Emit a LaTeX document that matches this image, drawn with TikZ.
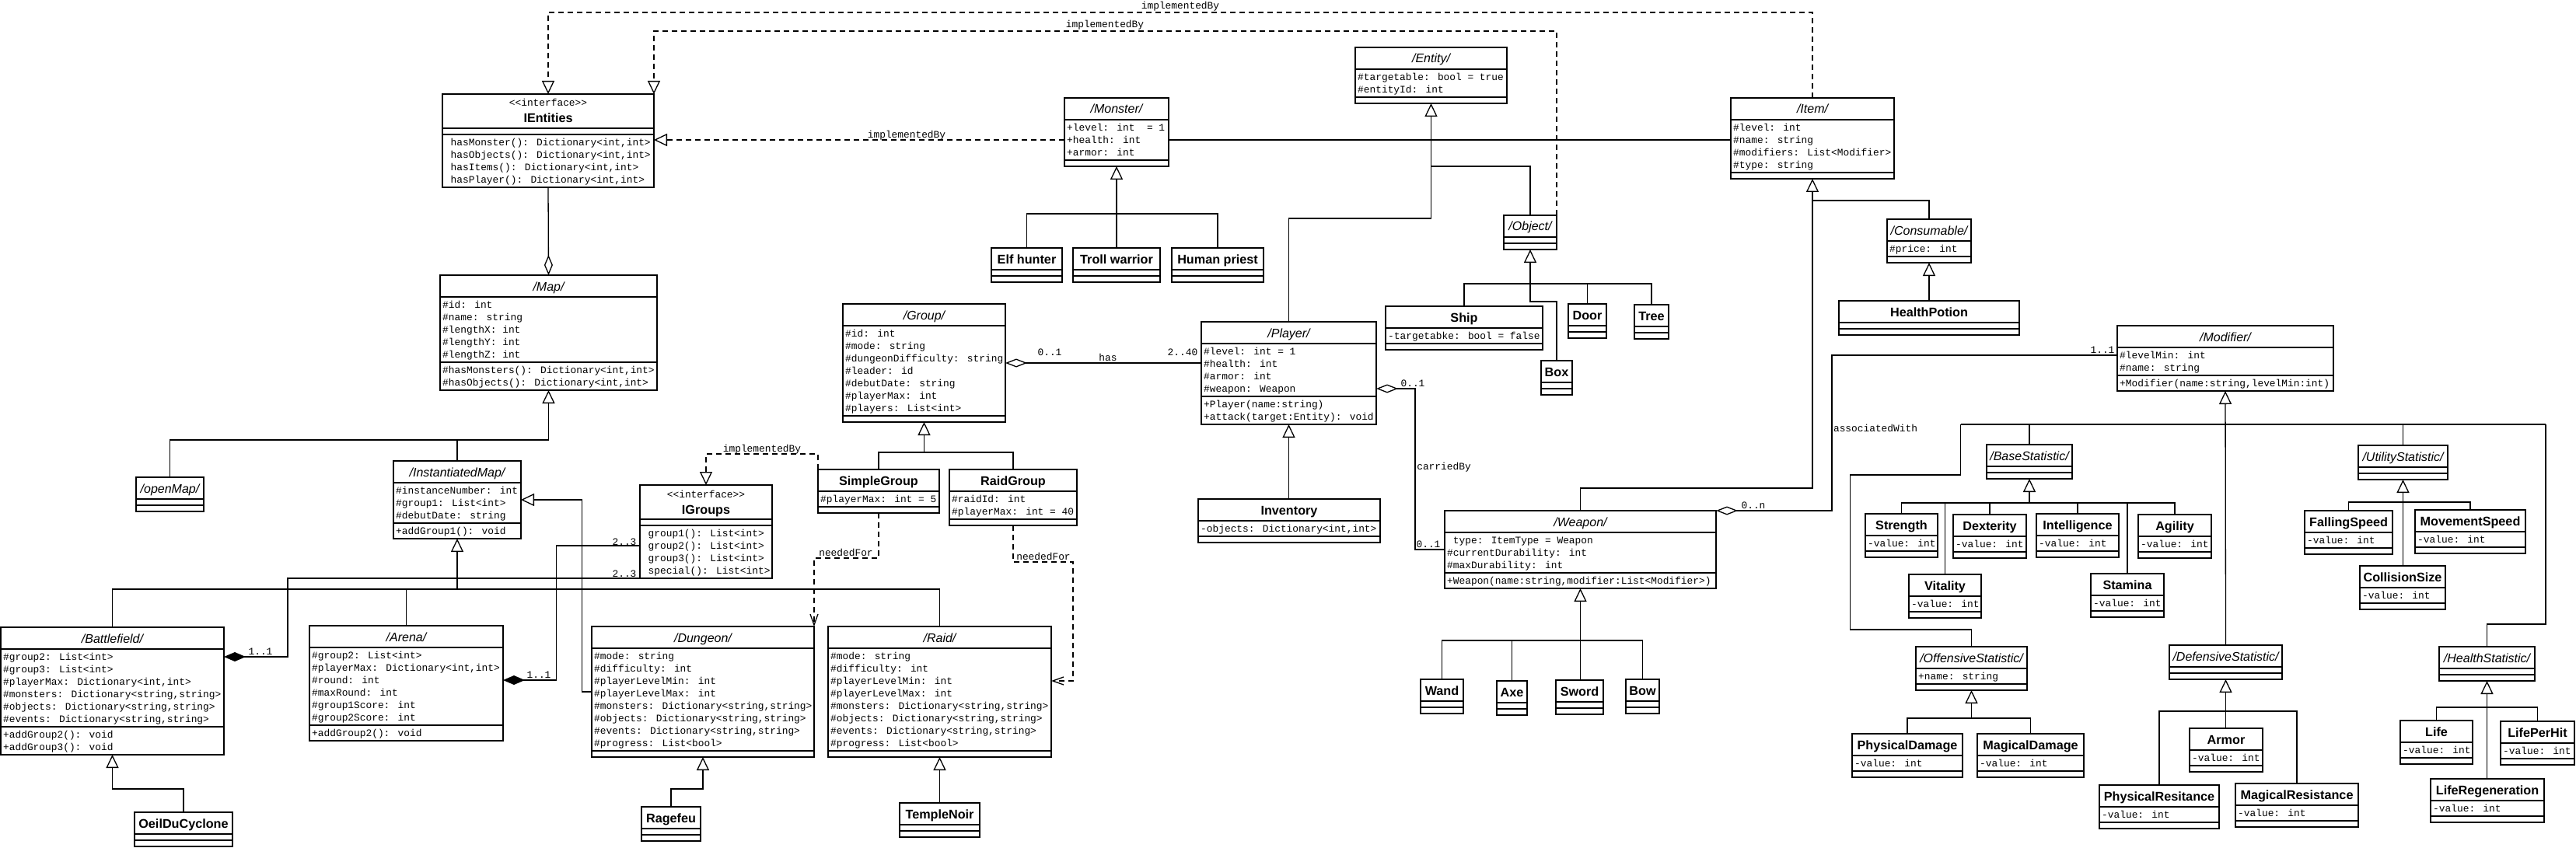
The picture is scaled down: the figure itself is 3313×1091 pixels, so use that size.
\documentclass[tikz,border=0pt]{standalone}
\usepackage{fontspec}
\usetikzlibrary{arrows.meta,calc}
\newfontfamily\monof{Liberation Mono}
\newfontfamily\titlef{Liberation Sans}
\newcommand\monosz{\monof\fontsize{12.85}{16}\selectfont}
\newcommand\ttlsz{\titlef\fontsize{16.2}{19}\selectfont}
\newcommand\abst[1]{{\itshape\fontsize{16}{19}\selectfont /#1/}}
\newcommand\conc[1]{{\bfseries #1}}
\newcommand\rowstrut{\rule{0pt}{10pt}}
\tikzset{
  clsbox/.style={draw, line width=1.8pt, inner sep=0pt, outer sep=0pt, anchor=north west},
  cline/.style={line width=1.8pt},
  ttl/.style={anchor=base, inner sep=0pt, font=\ttlsz},
  rows/.style={anchor=north west, inner sep=0pt, align=left, font=\monosz},
  lbl/.style={anchor=base, inner sep=0pt, font=\monosz},
  conn/.style={line width=1.3pt},
  gen/.style={line width=1.3pt, -{Triangle[open, length=17pt, width=16pt, line width=1.3pt]}},
  real/.style={line width=1.3pt, dash pattern=on 7pt off 5pt, -{Triangle[open, length=17pt, width=16pt, line width=1.3pt]}},
  dep/.style={line width=1.3pt, dash pattern=on 7pt off 5pt, -{Straight Barb[length=14pt, width=10pt, line width=1.3pt]}},
  aggS/.style={line width=1.3pt, {Diamond[open, length=28pt, width=11pt, line width=1.3pt]}-},
  aggE/.style={line width=1.3pt, -{Diamond[open, length=26pt, width=11pt, line width=1.3pt]}},
  compS/.style={line width=1.3pt, {Diamond[length=28pt, width=12pt]}-}
}
% #1 name, #2 left, #3 top, #4 right, #5 nAttr, #6 nMeth, #7 title, #8 attrs, #9 methods
\newcommand{\cls}[9]{%
  \pgfmathsetmacro\clsHA{(#5==0) ? 8 : 16*#5+4}%
  \pgfmathsetmacro\clsHM{(#6==0) ? 8 : 16*#6+4}%
  \pgfmathsetmacro\clsH{28+\clsHA+\clsHM}%
  \pgfmathsetmacro\clsW{#4-#2}%
  \pgfmathsetmacro\clsYa{#3+28}%
  \pgfmathsetmacro\clsYb{#3+28+\clsHA}%
  \node[clsbox, minimum width=\clsW pt, minimum height=\clsH pt] (#1) at (#2,#3) {};
  \draw[cline] (#2,\clsYa) -- (#4,\clsYa);
  \draw[cline] (#2,\clsYb) -- (#4,\clsYb);
  \node[ttl] (#1-t) at ({(#2+#4)/2},{#3+20}) {#7};
  \node[rows] (#1-a) at ({#2+3},{\clsYa+4}) {\rowstrut#8};
  \node[rows] (#1-m) at ({#2+3},{\clsYb+4}) {\rowstrut#9};
}
% interface: #1 name, #2 left, #3 top, #4 right, #5 title, #6 methods (4 rows)
\newcommand{\iface}[6]{%
  \pgfmathsetmacro\clsW{#4-#2}%
  \node[clsbox, minimum width=\clsW pt, minimum height=120pt] (#1) at (#2,#3) {};
  \draw[cline] (#2,{#3+44}) -- (#4,{#3+44});
  \draw[cline] (#2,{#3+52}) -- (#4,{#3+52});
  \node[lbl] (#1-s) at ({(#2+#4)/2},{#3+16}) {<<interface>>};
  \node[ttl] (#1-t) at ({(#2+#4)/2},{#3+37}) {\bfseries #5};
  \node[rows] (#1-m) at ({#2+10.5},{#3+56}) {\rowstrut#6};
}
\begin{document}
\begin{tikzpicture}[x=1pt,y=-1pt]
\fill[white] (0,0) rectangle (3313,1091);
\useasboundingbox (0,0) rectangle (3313,1091);

% ---------------- classes ----------------
\iface{ientities}{569}{121}{841}{IEntities}{hasMonster(): Dictionary<int,int>\\hasObjects(): Dictionary<int,int>\\hasItems(): Dictionary<int,int>\\hasPlayer(): Dictionary<int,int>}
\iface{igroups}{823}{624}{993}{IGroups}{group1(): List<int>\\group2(): List<int>\\group3(): List<int>\\special(): List<int>}

\cls{map}{566}{354}{845}{5}{2}{\abst{Map}}{\#id: int\\\#name: string\\\#lengthX: int\\\#lengthY: int\\\#lengthZ: int}{\#hasMonsters(): Dictionary<int,int>\\\#hasObjects(): Dictionary<int,int>}
\cls{monster}{1369}{126}{1503}{3}{0}{\abst{Monster}}{+level: int~~= 1\\+health: int\\+armor: int}{}
\cls{elf}{1275}{319}{1366}{0}{0}{\conc{Elf hunter}}{}{}
\cls{troll}{1380}{319}{1492}{0}{0}{\conc{Troll warrior}}{}{}
\cls{human}{1507}{319}{1625}{0}{0}{\conc{Human priest}}{}{}
\cls{entity}{1743}{61}{1938}{2}{0}{\abst{Entity}}{\#targetable: bool = true\\\#entityId: int}{}
\cls{object}{1934}{277}{2002}{0}{0}{\abst{Object}}{}{}
\cls{item}{2226}{126}{2436}{4}{0}{\abst{Item}}{\#level: int\\\#name: string\\\#modifiers: List<Modifier>\\\#type: string}{}
\cls{consumable}{2427}{282}{2535}{1}{0}{\abst{Consumable}}{\#price: int}{}
\cls{hpotion}{2365}{387}{2597}{0}{0}{\conc{HealthPotion}}{}{}
\cls{ship}{1782}{394}{1984}{1}{0}{\conc{Ship}}{-targetabke: bool = false}{}
\cls{door}{2017}{391}{2066}{0}{0}{\conc{Door}}{}{}
\cls{tree}{2102}{392}{2146}{0}{0}{\conc{Tree}}{}{}
\cls{box}{1982}{464}{2022}{0}{0}{\conc{Box}}{}{}
\cls{group}{1084}{391}{1293}{7}{0}{\abst{Group}}{\#id: int\\\#mode: string\\\#dungeonDifficulty: string\\\#leader: id\\\#debutDate: string\\\#playerMax: int\\\#players: List<int>}{}
\cls{player}{1545}{414}{1770}{4}{2}{\abst{Player}}{\#level: int = 1\\\#health: int\\\#armor: int\\\#weapon: Weapon}{+Player(name:string)\\+attack(target:Entity): void}
\cls{inventory}{1541}{642}{1775}{1}{0}{\conc{Inventory}}{-objects: Dictionary<int,int>}{}
\cls{sgroup}{1052}{604}{1208}{1}{0}{\conc{SimpleGroup}}{\#playerMax: int = 5}{}
\cls{rgroup}{1221}{604}{1385}{2}{0}{\conc{RaidGroup}}{\#raidId: int\\\#playerMax: int = 40}{}
\cls{openmap}{175}{614}{262}{0}{0}{\abst{openMap}}{}{}
\cls{imap}{506}{593}{670}{3}{1}{\abst{InstantiatedMap}}{\#instanceNumber: int\\\#group1: List<int>\\\#debutDate: string}{+addGroup1(): void}
\cls{battlefield}{1}{807}{288}{6}{2}{\abst{Battlefield}}{\#group2: List<int>\\\#group3: List<int>\\\#playerMax: Dictionary<int,int>\\\#monsters: Dictionary<string,string>\\\#objects: Dictionary<string,string>\\\#events: Dictionary<string,string>}{+addGroup2(): void\\+addGroup3(): void}
\cls{arena}{398}{805}{647}{6}{1}{\abst{Arena}}{\#group2: List<int>\\\#playerMax: Dictionary<int,int>\\\#round: int\\\#maxRound: int\\\#group1Score: int\\\#group2Score: int}{+addGroup2(): void}
\cls{dungeon}{761}{806}{1047}{8}{0}{\abst{Dungeon}}{\#mode: string\\\#difficulty: int\\\#playerLevelMin: int\\\#playerLevelMax: int\\\#monsters: Dictionary<string,string>\\\#objects: Dictionary<string,string>\\\#events: Dictionary<string,string>\\\#progress: List<bool>}{}
\cls{raid}{1065}{806}{1352}{8}{0}{\abst{Raid}}{\#mode: string\\\#difficulty: int\\\#playerLevelMin: int\\\#playerLevelMax: int\\\#monsters: Dictionary<string,string>\\\#objects: Dictionary<string,string>\\\#events: Dictionary<string,string>\\\#progress: List<bool>}{}
\cls{oeil}{173}{1045}{299}{0}{0}{\conc{OeilDuCyclone}}{}{}
\cls{ragefeu}{825}{1038}{901}{0}{0}{\conc{Ragefeu}}{}{}
\cls{temple}{1157}{1033}{1260}{0}{0}{\conc{TempleNoir}}{}{}
\cls{weapon}{1858}{657}{2207}{3}{1}{\abst{Weapon}}{\hspace{7.7pt}type: ItemType = Weapon\\\#currentDurability: int\\\#maxDurability: int}{+Weapon(name:string,modifier:List<Modifier>)}
\cls{wand}{1827}{874}{1882}{0}{0}{\conc{Wand}}{}{}
\cls{axe}{1925}{876}{1964}{0}{0}{\conc{Axe}}{}{}
\cls{sword}{2001}{875}{2062}{0}{0}{\conc{Sword}}{}{}
\cls{bow}{2091}{874}{2134}{0}{0}{\conc{Bow}}{}{}
\cls{modifier}{2723}{419}{3001}{2}{1}{\abst{Modifier}}{\#levelMin: int\\\#name: string}{+Modifier(name:string,levelMin:int)}
\cls{basestat}{2555}{572}{2665}{0}{0}{\abst{BaseStatistic}}{}{}
\cls{strength}{2399}{661}{2492}{1}{0}{\conc{Strength}}{-value: int}{}
\cls{dexterity}{2512}{662}{2606}{1}{0}{\conc{Dexterity}}{-value: int}{}
\cls{intelligence}{2619}{661}{2725}{1}{0}{\conc{Intelligence}}{-value: int}{}
\cls{agility}{2750}{662}{2844}{1}{0}{\conc{Agility}}{-value: int}{}
\cls{vitality}{2455}{739}{2548}{1}{0}{\conc{Vitality}}{-value: int}{}
\cls{stamina}{2689}{738}{2783}{1}{0}{\conc{Stamina}}{-value: int}{}
\cls{utilstat}{3033}{573}{3148}{0}{0}{\abst{UtilityStatistic}}{}{}
\cls{falling}{2964}{657}{3077}{1}{0}{\conc{FallingSpeed}}{-value: int}{}
\cls{movement}{3106}{656}{3248}{1}{0}{\conc{MovementSpeed}}{-value: int}{}
\cls{collision}{3035}{728}{3145}{1}{0}{\conc{CollisionSize}}{-value: int}{}
\cls{offstat}{2464}{832}{2607}{1}{0}{\abst{OffensiveStatistic}}{+name: string}{}
\cls{physdmg}{2382}{944}{2524}{1}{0}{\conc{PhysicalDamage}}{-value: int}{}
\cls{magdmg}{2543}{944}{2680}{1}{0}{\conc{MagicalDamage}}{-value: int}{}
\cls{defstat}{2790}{830}{2935}{0}{0}{\abst{DefensiveStatistic}}{}{}
\cls{armor}{2816}{937}{2910}{1}{0}{\conc{Armor}}{-value: int}{}
\cls{physres}{2700}{1010}{2854}{1}{0}{\conc{PhysicalResitance}}{-value: int}{}
\cls{magres}{2875}{1008}{3033}{1}{0}{\conc{MagicalResistance}}{-value: int}{}
\cls{healthstat}{3137}{832}{3260}{0}{0}{\abst{HealthStatistic}}{}{}
\cls{life}{3087}{927}{3180}{1}{0}{\conc{Life}}{-value: int}{}
\cls{lifeperhit}{3216}{928}{3311}{1}{0}{\conc{LifePerHit}}{-value: int}{}
\cls{liferegen}{3126}{1002}{3272}{1}{0}{\conc{LifeRegeneration}}{-value: int}{}

% ---------------- realizations ----------------
\draw[real] (item.north) -- ++(0,-110) -| (ientities.north);
\draw[real] (object.north east) -- ++(0,-237) -| (ientities.north east);
\coordinate (mA) at ([yshift=-10pt]monster.west);
\draw[real] (mA) -- (mA -| ientities.east);
\draw[real] (sgroup.north west) -- ++(0,-20) -| (igroups.north);

% ---------------- associations ----------------
\coordinate (mB) at ([yshift=-10pt]monster.east);
\draw[conn] (mB) -- (mB -| item.west);
\draw[aggE] (ientities.south) -- (map.north);
\draw[aggS] (group.east) -- (group.east -| player.west);
\draw[aggS] ([yshift=-20pt]player.east) -- ++(50,0) |- (weapon.west);
\draw[aggS] (weapon.north east) -- ++(149,0) |- ([yshift=4pt]modifier.west);
\draw[compS] ([yshift=4pt]arena.east) -- ++(68.7,0) |- ([yshift=-18pt]igroups.west);
\draw[compS] ([yshift=44pt]battlefield.east) -- ++(82,0) |- (igroups.south west);

% ---------------- dependencies ----------------
\draw[dep] (sgroup.south) -- ++(0,58) -| (dungeon.north east);
\draw[dep] (rgroup.south) -- ++(0,47) -- ++(77,0) |- ([yshift=14pt]raid.east);

% ---------------- generalizations ----------------
\draw[gen] (troll.north) -- (monster.south);
\draw[conn] (elf.north) -- ++(0,-44) -| (human.north);
\draw[gen] (player.north) -- ++(0,-133) -| (entity.south);
\draw[conn] (object.north) |- ([yshift=-81pt]entity.south);
\coordinate (obar) at ([yshift=-44pt]object.south);
\draw[gen] (obar) -- (object.south);
\draw[conn] (ship.north) |- (obar) -| (tree.north);
\draw[conn] (door.north) -- (door.north |- obar);
\draw[conn] (box.north) -- ++(0,-76) -| (obar);
\draw[gen] (weapon.north) -- ++(0,-29) -| (item.south);
\draw[conn] (consumable.north) |- ([yshift=-28pt]item.south);
\draw[gen] (hpotion.north) -- (consumable.south);
\draw[gen] (player.south |- inventory.north) -- (player.south);
\coordinate (gbar) at ([yshift=-39pt]group.south);
\draw[gen] (gbar) -- (group.south);
\draw[conn] (sgroup.north) |- (gbar) -| (rgroup.north);
\coordinate (mbar) at ([yshift=-64pt]map.south);
\draw[gen] (mbar) -- (map.south);
\draw[conn] (openmap.north) |- (mbar);
\draw[conn] (imap.north) -- (imap.north |- mbar);
\coordinate (ibar) at ([yshift=-65pt]imap.south);
\draw[gen] (ibar) -- (imap.south);
\draw[conn] (battlefield.north) |- (ibar) -| (raid.north);
\draw[conn] (arena.north) -- (arena.north |- ibar);
\draw[gen] (dungeon.west) -- ++(-12.5,0) |- (imap.east);
\draw[gen] (oeil.north) -- ++(0,-30) -| (battlefield.south);
\draw[gen] (ragefeu.north) -- ++(0,-23) -| (dungeon.south);
\draw[gen] (temple.north) -- (raid.south);
\draw[gen] (weapon.south |- sword.north) -- (weapon.south);
\draw[conn] (wand.north) -- ++(0,-50) -| (bow.north);
\draw[conn] (axe.north) -- ++(0,-52);
% modifier tree
\coordinate (mbL) at (2521.5,546);
\coordinate (mbR) at (3274,546);
\draw[gen] (defstat.north) -- (modifier.south);
\draw[conn] (mbL) -- (mbR);
\draw[conn] (basestat.north) -- (basestat.north |- mbL);
\draw[conn] (utilstat.north) -- (utilstat.north |- mbL);
\draw[conn] (mbL) |- (2379.6,611) |- ([yshift=22pt]offstat.north) -- (offstat.north);
\draw[conn] (mbR) |- ([yshift=29pt]healthstat.north) -- (healthstat.north);
\coordinate (bbar) at ([yshift=-31pt]basestat.south);
\draw[gen] (bbar) -- (basestat.south);
\draw[conn] (strength.north) |- (bbar) -| (agility.north);
\draw[conn] (dexterity.north) -- (dexterity.north |- bbar);
\draw[conn] (intelligence.north) -- (intelligence.north |- bbar);
\draw[conn] (vitality.north) -- (vitality.north |- bbar);
\draw[conn] (stamina.north) -- (stamina.north |- bbar);
\draw[gen] (utilstat.south |- collision.north) -- (utilstat.south);
\coordinate (ubar) at ([yshift=-29pt]utilstat.south);
\draw[conn] (falling.north) |- (ubar) -| (movement.north);
\coordinate (obar2) at ([yshift=-36pt]offstat.south);
\draw[gen] (obar2) -- (offstat.south);
\draw[conn] (physdmg.north) |- (obar2) -| (magdmg.north);
\draw[gen] (defstat.south |- armor.north) -- (defstat.south);
\draw[conn] (physres.north) -- ++(0,-95) -| (magres.north);
\draw[gen] (healthstat.south |- liferegen.north) -- (healthstat.south);
\draw[conn] (life.north) -- ++(0,-17) -| (lifeperhit.north);

% ---------------- labels ----------------
\node[lbl] (lab1) at (1518,12) {implementedBy};
\node[lbl] (lab2) at (1421,36) {implementedBy};
\node[lbl] (lab3) at (1166,178) {implementedBy};
\node[lbl] (lab4) at (980,581) {implementedBy};
\node[lbl] (lab5) at (1350,457) {0..1};
\node[lbl] (lab6) at (1425,464) {has};
\node[lbl] (lab7) at (1521,457) {2..40};
\node[lbl] (lab8) at (1817,497) {0..1};
\node[lbl] (lab9) at (1857,604) {carriedBy};
\node[lbl] (lab10) at (1837,704) {0..1};
\node[lbl] (lab11) at (2255,654) {0..n};
\node[lbl] (lab12) at (2704,454) {1..1};
\node[lbl] (lab13) at (2412,555) {associatedWith};
\node[lbl] (lab14) at (803,701) {2..3};
\node[lbl] (lab15) at (693,872) {1..1};
\node[lbl] (lab16) at (803,742) {2..3};
\node[lbl] (lab17) at (335,842) {1..1};
\node[lbl] (lab18) at (1088,715) {neededFor};
\node[lbl] (lab19) at (1342,720) {neededFor};
\end{tikzpicture}
\end{document}
